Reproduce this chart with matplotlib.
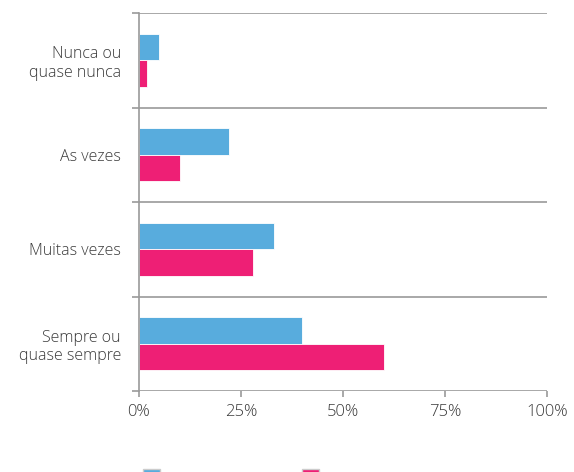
import matplotlib
matplotlib.use('Agg')
import matplotlib.pyplot as plt
import numpy as np

# categorias (de cima para baixo) e percentuais das duas series
categorias = ['Nunca ou\nquase nunca', 'As vezes', 'Muitas vezes', 'Sempre ou\nquase sempre']
serie_azul = [5, 22, 33, 40]
serie_rosa = [2, 10, 28, 60]
ticks_x = [0, 25, 50, 75, 100]
rotulos_x = ['0%', '25%', '50%', '75%', '100%']

azul = '#58acdd'
rosa = '#ee1f75'
cinza = '#9a9a9a'

plt.rcParams['font.family'] = ['Open Sans', 'DejaVu Sans']

fig = plt.figure(figsize=(5.74, 4.72), dpi=100)
ax = fig.add_axes([139/574, 1 - 391/472, 408/574, 378/472])

pos = np.arange(len(categorias))
alt = 0.28
ax.barh(pos - alt/2, serie_azul, height=alt, color=azul, edgecolor='white', linewidth=0.6)
ax.barh(pos + alt/2, serie_rosa, height=alt, color=rosa, edgecolor='white', linewidth=0.6)

ax.set_xlim(0, 100)
ax.set_ylim(len(categorias) - 0.5, -0.5)

# linhas separadoras entre categorias
ax.set_yticks(np.arange(-0.5, len(categorias)), minor=True)
ax.set_yticks(pos)
ax.set_yticklabels(categorias, fontsize=11.5, color='#3a3a3a', ha='right',
                   multialignment='right', fontweight='light')
ax.tick_params(axis='y', which='major', length=0, pad=13)
ax.tick_params(axis='y', which='minor', length=5, width=1.2, color=cinza)
ax.grid(axis='y', which='minor', color=cinza, linewidth=1.2)
ax.set_axisbelow(True)

ax.set_xticks(ticks_x)
ax.set_xticklabels(rotulos_x, fontsize=12, color='#3a3a3a', fontweight='light')
ax.tick_params(axis='x', length=4, width=1.2, color=cinza, pad=5)

for s in ['top', 'right', 'bottom']:
    ax.spines[s].set_visible(False)
ax.spines['left'].set_color(cinza)
ax.spines['left'].set_linewidth(1.2)

# legenda no rodape
h1 = plt.Rectangle((0, 0), 1, 1, facecolor=azul, edgecolor='#cccccc')
h2 = plt.Rectangle((0, 0), 1, 1, facecolor=rosa, edgecolor='#cccccc')
fig.legend([h1, h2], ['', ''], ncol=2, loc='upper left',
           bbox_to_anchor=(143/574, 1 - 469/472), frameon=False,
           fontsize=10, handlelength=1.25, handleheight=1.25,
           handletextpad=0, columnspacing=10.2, borderpad=0, borderaxespad=0)

fig.savefig('out.png', dpi=100)
